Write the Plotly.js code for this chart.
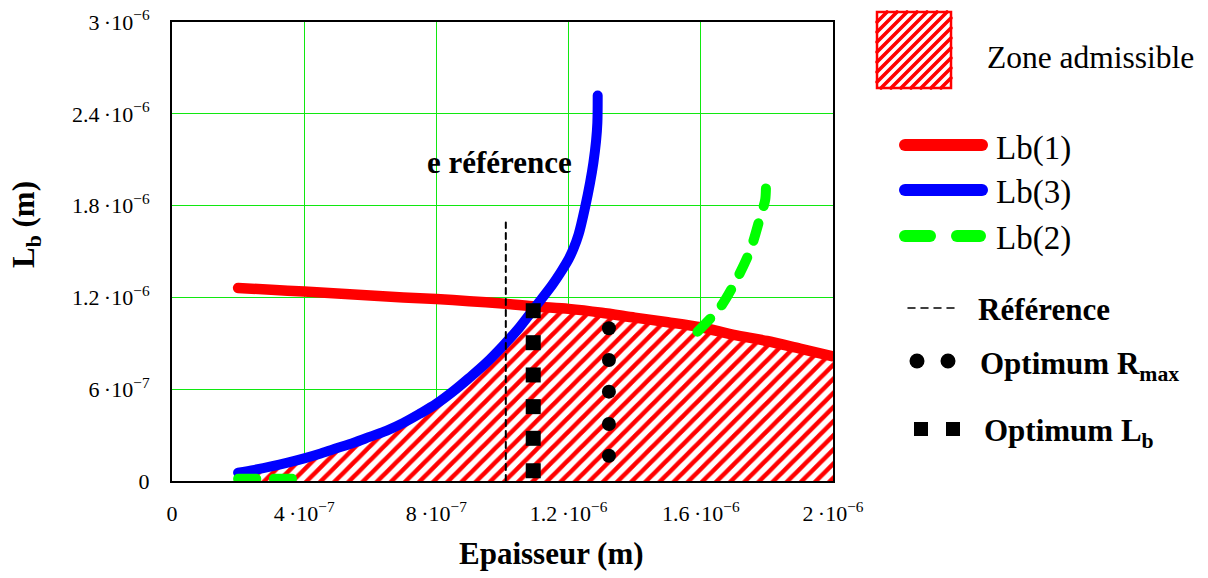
<!DOCTYPE html>
<html><head><meta charset="utf-8">
<script src="https://cdn.plot.ly/plotly-3.0.1.min.js"></script>
<style>
html,body{margin:0;padding:0;background:#fff;}
#chart{width:1208px;height:578px;}
.scatterlayer .js-line{stroke-linecap:round;stroke-linejoin:round;}
.shapelayer path{stroke-linecap:round;}
</style></head><body><div id="chart"></div>
<script>
// ---- data ----
const redX  = [2.0e-7,3.0e-7,4.0e-7,5.0e-7,6.0e-7,7.0e-7,8.0e-7,9.0e-7,1.0e-6,1.1e-6,1.2e-6,1.3e-6,1.4e-6,1.5e-6,1.6e-6,1.7e-6,1.8e-6,1.9e-6,2.0e-6];
const redY  = [1.262e-6,1.250e-6,1.238e-6,1.225e-6,1.212e-6,1.200e-6,1.190e-6,1.175e-6,1.160e-6,1.140e-6,1.125e-6,1.100e-6,1.068e-6,1.038e-6,1.005e-6,0.955e-6,0.915e-6,0.865e-6,0.815e-6];

const blueX = [2.0e-7,2.5e-7,3.0e-7,3.5e-7,4.0e-7,4.5e-7,5.0e-7,5.5e-7,6.0e-7,6.5e-7,7.0e-7,7.5e-7,8.0e-7,8.5e-7,9.0e-7,9.5e-7,1.0e-6,1.05e-6,1.1e-6,1.15e-6,1.175e-6,1.2e-6,1.215e-6,1.23e-6,1.25e-6,1.265e-6,1.275e-6,1.283e-6,1.287e-6,1.288e-6];
const blueY = [0.054e-6,0.073e-6,0.095e-6,0.120e-6,0.148e-6,0.180e-6,0.215e-6,0.250e-6,0.290e-6,0.330e-6,0.380e-6,0.440e-6,0.505e-6,0.585e-6,0.675e-6,0.770e-6,0.880e-6,1.000e-6,1.140e-6,1.280e-6,1.360e-6,1.450e-6,1.520e-6,1.610e-6,1.790e-6,1.950e-6,2.080e-6,2.220e-6,2.340e-6,2.520e-6];

const greenX = [2.0e-7,3.0e-7,4.0e-7,null,1.59e-6,1.66e-6,1.71e-6,1.75e-6,1.78e-6,1.795e-6,1.797e-6];
const greenY = [0.015e-6,0.015e-6,0.015e-6,null,0.976e-6,1.139e-6,1.324e-6,1.510e-6,1.727e-6,1.840e-6,2.020e-6];

const refX = [1.01e-6,1.01e-6];
const refY = [0,1.69e-6];

const optLbX = [1.093e-6,1.093e-6,1.093e-6,1.093e-6,1.093e-6,1.093e-6];
const optLbY = [1.113e-6,0.904e-6,0.693e-6,0.486e-6,0.279e-6,0.067e-6];

const optRX = [1.322e-6,1.322e-6,1.322e-6,1.322e-6,1.322e-6];
const optRY = [0.998e-6,0.791e-6,0.584e-6,0.373e-6,0.165e-6];

const xTickVals = [0,4e-7,8e-7,1.2e-6,1.6e-6,2e-6];
const xTickText = ['0','4\u2009·10<sup>\u22127</sup>','8\u2009·10<sup>\u22127</sup>','1.2\u2009·10<sup>\u22126</sup>','1.6\u2009·10<sup>\u22126</sup>','2\u2009·10<sup>\u22126</sup>'];
const yTickVals = [0,6e-7,1.2e-6,1.8e-6,2.4e-6,3e-6];
const yTickText = ['0','6\u2009·10<sup>\u22127</sup>','1.2\u2009·10<sup>\u22126</sup>','1.8\u2009·10<sup>\u22126</sup>','2.4\u2009·10<sup>\u22126</sup>','3\u2009·10<sup>\u22126</sup>'];

// ---- admissible zone: below both curves (built from the data) ----
function interp(xs, ys, x){
  if (x <= xs[0]) return ys[0];
  for (let i=1;i<xs.length;i++){ if (x <= xs[i]) { const t=(x-xs[i-1])/(xs[i]-xs[i-1]); return ys[i-1]+t*(ys[i]-ys[i-1]); } }
  return ys[ys.length-1];
}
const zoneX = [], zoneY = [];
let lastX = null;
for (let i=0;i<blueX.length;i++){
  const d = blueY[i] - interp(redX, redY, blueX[i]);
  if (d <= 0) { zoneX.push(blueX[i]); zoneY.push(blueY[i]); lastX = blueX[i]; }
  else {
    const dp = blueY[i-1] - interp(redX, redY, blueX[i-1]);
    const t = dp/(dp-d);
    const xi = blueX[i-1] + t*(blueX[i]-blueX[i-1]);
    zoneX.push(xi); zoneY.push(interp(redX, redY, xi)); lastX = xi;
    break;
  }
}
for (let i=0;i<redX.length;i++){ if (redX[i] > lastX) { zoneX.push(redX[i]); zoneY.push(redY[i]); } }

const FONT = 'Liberation Serif, Times New Roman, serif';
const traces = [
  {x: zoneX, y: zoneY, type:'scatter', mode:'lines', line:{width:0, color:'red', shape:'spline', smoothing:0.8}, fill:'tozeroy',
   fillcolor:'white', fillpattern:{shape:'/', fgcolor:'red', bgcolor:'white', size:10, solidity:0.45}, hoverinfo:'skip'},
  {x: redX, y: redY, type:'scatter', mode:'lines', line:{color:'#ff0000', width:10.5, shape:'spline', smoothing:0.8}},
  {x: blueX, y: blueY, type:'scatter', mode:'lines', line:{color:'#0000ff', width:10, shape:'spline', smoothing:1}},
  {x: greenX, y: greenY, type:'scatter', mode:'lines', line:{color:'#00ff00', width:10, dash:'18px,18px', shape:'spline', smoothing:0.8}, connectgaps:false},
  {x: refX, y: refY, type:'scatter', mode:'lines', line:{color:'black', width:2, dash:'6px,5px'}},
  {x: optLbX, y: optLbY, type:'scatter', mode:'markers', marker:{symbol:'square', size:15, color:'black'}},
  {x: optRX, y: optRY, type:'scatter', mode:'markers', marker:{symbol:'circle', size:14, color:'black'}}
];

// ---- legend drawn in paper coords ----
const PL=172, PR=833, PT=22, PB=481;
const px = v => (v-PL)/(PR-PL);
const py = v => (PB-v)/(PB-PT);

const shapes = [];
const bx0=877, bx1=951, by0=12, by1=88;
let hp = '';
for (let c = bx0+by0; c <= bx1+by1; c += 10){
  const xa = Math.max(bx0, c-by1), xb = Math.min(bx1, c-by0);
  if (xb - xa < 1) continue;
  hp += 'M'+px(xa)+','+py(c-xa)+'L'+px(xb)+','+py(c-xb);
}
shapes.push({type:'rect', xref:'paper', yref:'paper', x0:px(bx0), x1:px(bx1), y0:py(by1), y1:py(by0), fillcolor:'white', line:{width:0}});
shapes.push({type:'path', xref:'paper', yref:'paper', path:hp, line:{color:'red', width:3.6}});
shapes.push({type:'rect', xref:'paper', yref:'paper', x0:px(bx0), x1:px(bx1), y0:py(by1), y1:py(by0), fillcolor:'rgba(0,0,0,0)', line:{color:'red', width:2.5}});
shapes.push({type:'line', xref:'paper', yref:'paper', x0:px(905), x1:px(982), y0:py(145), y1:py(145), line:{color:'#ff0000', width:12}});
shapes.push({type:'line', xref:'paper', yref:'paper', x0:px(905), x1:px(982), y0:py(190), y1:py(190), line:{color:'#0000ff', width:12}});
shapes.push({type:'line', xref:'paper', yref:'paper', x0:px(905), x1:px(930), y0:py(236), y1:py(236), line:{color:'#00ff00', width:12}});
shapes.push({type:'line', xref:'paper', yref:'paper', x0:px(957), x1:px(980), y0:py(236), y1:py(236), line:{color:'#00ff00', width:12}});
shapes.push({type:'line', xref:'paper', yref:'paper', x0:px(908), x1:px(958), y0:py(308), y1:py(308), line:{color:'black', width:1.5, dash:'7px,6px'}});
[917,948].forEach(c => shapes.push({type:'circle', xref:'paper', yref:'paper', x0:px(c-7.5), x1:px(c+7.5), y0:py(361+7.5), y1:py(361-7.5), fillcolor:'black', line:{width:0}}));
[921,953].forEach(c => shapes.push({type:'rect', xref:'paper', yref:'paper', x0:px(c-7), x1:px(c+7), y0:py(429+7), y1:py(429-7), fillcolor:'black', line:{width:0}}));

function ann(text, x, y, size, bold, anchor){
  return {text: bold ? '<b>'+text+'</b>' : text, xref:'paper', yref:'paper', x:px(x), y:py(y), xanchor:anchor||'left', yanchor:'middle',
          showarrow:false, font:{family:FONT, size:size, color:'black'}};
}
const annotations = [
  ann('Zone admissible', 985, 57, 31.5, false),
  ann('Lb(1)', 994, 148, 33, false),
  ann('Lb(3)', 994, 192, 33, false),
  ann('Lb(2)', 994, 238, 33, false),
  ann('Référence', 976, 309, 31, true),
  ann('Optimum R<sub>max</sub>', 978, 366, 31, true),
  ann('Optimum L<sub>b</sub>', 982, 433, 31, true),
  ann('e référence', 499, 162, 31, true, 'center'),
  ann('Epaisseur (m)', 551, 553, 31, true, 'center'),
  Object.assign(ann('L<sub>b</sub> (m)', 26, 225, 31, true, 'center'), {textangle:-90})
];

const axisCommon = {showgrid:true, gridcolor:'#10e810', gridwidth:1, zeroline:false, showline:true, linecolor:'black', linewidth:2, mirror:true,
  ticks:'', tickmode:'array', tickfont:{family:FONT, size:22, color:'black'}};

const layout = {
  width:1208, height:578, margin:{l:PL, r:1208-PR, t:PT, b:578-PB, pad:0},
  paper_bgcolor:'white', plot_bgcolor:'white', showlegend:false,
  font:{family:FONT, color:'black'},
  xaxis: Object.assign({}, axisCommon, {range:[0,2e-6], tickvals:xTickVals, ticktext:xTickText, ticklabelstandoff:12}),
  yaxis: Object.assign({}, axisCommon, {range:[0,3e-6], tickvals:yTickVals, ticktext:yTickText, ticklabelstandoff:16}),
  shapes: shapes, annotations: annotations
};
Plotly.newPlot('chart', traces, layout, {displayModeBar:false, staticPlot:true});
</script></body></html>
